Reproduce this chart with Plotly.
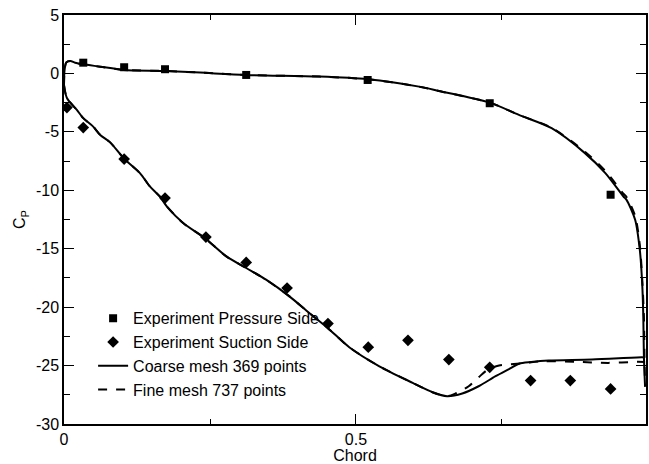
import plotly.graph_objects as go

# Experimental data
exp_ps_x = [0.033, 0.103, 0.173, 0.312, 0.520, 0.729, 0.936]
exp_ps_y = [0.92, 0.53, 0.36, -0.13, -0.56, -2.55, -10.38]

exp_ss_x = [0.005, 0.033, 0.103, 0.173, 0.243, 0.312, 0.382, 0.452, 0.521, 0.589, 0.659, 0.729, 0.799, 0.867, 0.936]
exp_ss_y = [-2.92, -4.63, -7.33, -10.67, -14.0, -16.17, -18.36, -21.41, -23.43, -22.84, -24.49, -25.15, -26.28, -26.28, -27.0]

# Coarse mesh (369 points)
coarse_ps_x = [0.0, 0.001, 0.004, 0.011, 0.019, 0.033, 0.062, 0.102, 0.173, 0.233, 0.312, 0.437, 0.52, 0.608, 0.642, 0.729, 0.779, 0.835, 0.892, 0.927, 0.958, 0.963, 0.978, 0.986, 0.990, 0.992, 0.993, 0.995]
coarse_ps_y = [-1.0, 0.3, 0.95, 1.07, 0.92, 0.78, 0.58, 0.30, 0.21, 0.07, -0.13, -0.27, -0.5, -1.13, -1.5, -2.5, -3.55, -4.69, -6.82, -8.53, -10.53, -10.8, -12.52, -15.1, -17.9, -20.8, -24.2, -26.8]
coarse_ss_x = [0.0, 0.005, 0.022, 0.033, 0.05, 0.062, 0.079, 0.103, 0.130, 0.147, 0.164, 0.176, 0.204, 0.241, 0.278, 0.312, 0.346, 0.386, 0.42, 0.452, 0.489, 0.540, 0.597, 0.631, 0.656, 0.682, 0.71, 0.739, 0.762, 0.779, 0.80, 0.83, 0.904, 0.989, 0.995]
coarse_ss_y = [-1.0, -2.1, -3.12, -3.83, -4.55, -5.26, -5.9, -7.3, -8.53, -9.67, -10.53, -11.38, -12.8, -14.09, -15.66, -16.65, -17.65, -19.08, -20.5, -21.8, -23.45, -25.06, -26.48, -27.28, -27.62, -27.39, -26.77, -25.91, -25.3, -24.85, -24.7, -24.57, -24.49, -24.29, -24.3]

# Fine mesh (737 points)
fine_ps_x = [0.0, 0.001, 0.004, 0.011, 0.019, 0.033, 0.062, 0.102, 0.173, 0.233, 0.312, 0.437, 0.52, 0.608, 0.642, 0.729, 0.779, 0.835, 0.892, 0.927, 0.958, 0.963, 0.978, 0.986, 0.990, 0.993, 0.994, 0.995]
fine_ps_y = [-1.0, 0.3, 0.95, 1.07, 0.92, 0.78, 0.58, 0.30, 0.21, 0.07, -0.13, -0.27, -0.5, -1.13, -1.5, -2.5, -3.55, -4.65, -6.7, -8.35, -10.3, -10.55, -12.2, -14.7, -17.5, -20.8, -24.3, -26.8]
fine_ss_x = [0.0, 0.005, 0.022, 0.033, 0.05, 0.062, 0.079, 0.103, 0.130, 0.147, 0.164, 0.176, 0.204, 0.241, 0.278, 0.312, 0.346, 0.386, 0.42, 0.452, 0.489, 0.540, 0.597, 0.631, 0.656, 0.67, 0.693, 0.71, 0.727, 0.745, 0.762, 0.787, 0.818, 0.875, 0.932, 0.983, 0.995]
fine_ss_y = [-1.0, -2.1, -3.12, -3.83, -4.55, -5.26, -5.9, -7.3, -8.53, -9.67, -10.53, -11.38, -12.8, -14.09, -15.66, -16.65, -17.65, -19.08, -20.5, -21.8, -23.45, -25.06, -26.48, -27.28, -27.62, -27.4, -26.77, -26.0, -25.3, -25.0, -24.9, -24.8, -24.63, -24.68, -24.77, -24.68, -24.7]

x_ticks = [0, 0.5]
x_ticklabels = ["0", "0.5"]
y_ticks = [5, 0, -5, -10, -15, -20, -25, -30]
y_ticklabels = ["5", "0", "-5", "-10", "-15", "-20", "-25", "-30"]

FONT = "Liberation Sans, Arial, Helvetica, sans-serif"

fig = go.Figure()
fig.add_trace(go.Scatter(x=exp_ps_x, y=exp_ps_y, mode="markers",
                         marker=dict(symbol="square", size=8, color="black"),
                         name="Experiment Pressure Side"))
fig.add_trace(go.Scatter(x=exp_ss_x, y=exp_ss_y, mode="markers",
                         marker=dict(symbol="diamond", size=9, color="black"),
                         name="Experiment Suction Side"))
solid = dict(color="black", width=2, shape="spline", smoothing=0.8)
dashed = dict(color="black", width=2, dash="dash", shape="spline", smoothing=0.8)
fig.add_trace(go.Scatter(x=coarse_ps_x, y=coarse_ps_y, mode="lines", line=solid,
                         name="Coarse mesh 369 points", legendgroup="coarse"))
fig.add_trace(go.Scatter(x=coarse_ss_x, y=coarse_ss_y, mode="lines", line=solid,
                         name="Coarse mesh 369 points", legendgroup="coarse", showlegend=False))
fig.add_trace(go.Scatter(x=fine_ps_x, y=fine_ps_y, mode="lines", line=dashed,
                         name="Fine mesh 737 points", legendgroup="fine"))
fig.add_trace(go.Scatter(x=fine_ss_x, y=fine_ss_y, mode="lines", line=dashed,
                         name="Fine mesh 737 points", legendgroup="fine", showlegend=False))

axis_common = dict(showline=True, linecolor="black", linewidth=1.5, mirror="allticks",
                   ticks="inside", tickcolor="black", ticklen=10, tickwidth=1,
                   showgrid=False, zeroline=False,
                   tickfont=dict(family=FONT, size=16, color="black"))

fig.update_xaxes(range=[0, 0.9966], tickmode="array", tickvals=x_ticks, ticktext=x_ticklabels,
                 minor=dict(tickvals=[0.25, 0.75], ticklen=5, ticks="inside", tickcolor="black"),
                 title=dict(text="Chord", font=dict(family=FONT, size=16, color="black"), standoff=3),
                 **axis_common)
fig.update_yaxes(range=[-30, 5], tickmode="array", tickvals=y_ticks, ticktext=y_ticklabels,
                 minor=dict(tickvals=[2.5, -2.5, -7.5, -12.5, -17.5, -22.5, -27.5], ticklen=6,
                            ticks="inside", tickcolor="black"),
                 title=dict(text="C<sub>P</sub>", font=dict(family=FONT, size=16, color="black"), standoff=6),
                 **axis_common)

fig.update_layout(
    width=649, height=464,
    margin=dict(l=64, r=1, t=15, b=40),
    plot_bgcolor="white", paper_bgcolor="white",
    font=dict(family=FONT, size=16, color="black"),
    legend=dict(x=0.05, y=0.30, xanchor="left", yanchor="top",
                bgcolor="rgba(0,0,0,0)", font=dict(family=FONT, size=16, color="black"),
                tracegroupgap=0, itemwidth=30),
    showlegend=True,
)

fig.write_html("out.html")
